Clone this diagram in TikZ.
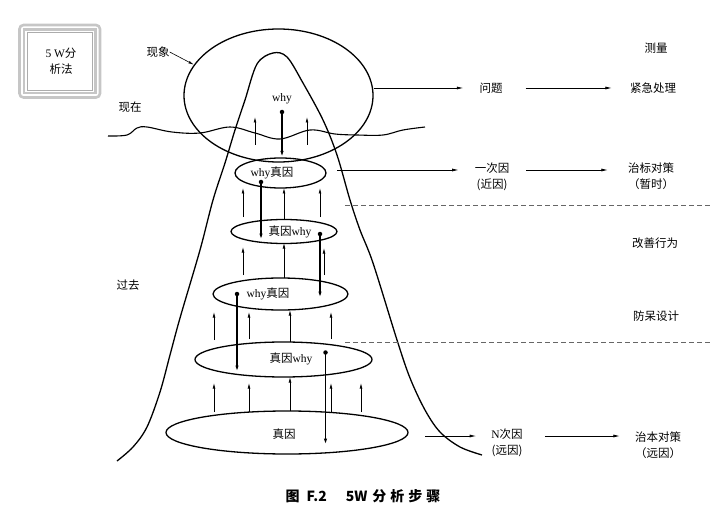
\documentclass[tikz,border=0pt]{standalone}
\usepackage{fontspec}
\setmainfont{Liberation Serif}
\newfontfamily\cjk{Noto Sans CJK SC}
\usetikzlibrary{shapes.geometric, arrows.meta, positioning, calc}

\newcommand{\yw}{{\rmfamily why}}

\begin{document}
\begin{tikzpicture}[
    x=1pt, y=-1pt,
    ring/.style={draw, ellipse, line width=1.3pt, inner sep=0pt},
    lbl/.style={font=\fontsize{11.5}{16.5}\selectfont\cjk, inner sep=0pt, align=center},
    arrow/.style={-{Latex[length=6.5pt,width=3pt]}, line width=0.7pt},
    uparr/.style={-{Latex[length=5.5pt,width=2.8pt]}, line width=0.7pt},
    down/.style={-{Latex[length=6.5pt,width=3.4pt]}, line width=1.3pt},
    dot/.style={circle, fill, inner sep=0pt, minimum size=4.5pt},
    cut/.style={dash pattern=on 5pt off 3pt, line width=0.6pt, gray!80!black}
]
    \useasboundingbox (0,0) rectangle (726,516);

    % title box
    \draw[gray!45, line width=2.6pt, rounded corners=4pt] (19.5,25) rectangle (100,97.5);
    \draw[gray!45, line width=2.2pt] (24,29.5) rectangle (95.5,93);
    \draw[gray!65, line width=1pt] (27.8,32.5) rectangle (92,90.5);
    \node[lbl] (box) at (61,61) {{\rmfamily 5 W}分\\析法};

    % the hill and the surface
    \draw[line width=1.3pt] plot[smooth, tension=0.55] coordinates {
        (117,461) (133,447) (147,427) (160,392) (170,355) (180,318) (200,250)
        (213,200) (225,163) (235,130) (245,100) (257,64) (273,53) (287,57)
        (303,83) (323,120) (337,155) (350,200) (360,230) (373,263) (397,340)
        (410,378) (425,410) (440,432) (460,447) (482,455)};
    \draw[line width=1.1pt] plot[smooth, tension=0.6] coordinates {
        (108,136) (127,135) (137,128) (147,127) (172,132) (200,133) (230,127)
        (255,133) (280,139) (310,130) (335,134) (357,135) (383,135) (403,130) (425,127)};

    % levels
    \node[ring, minimum width=189pt, minimum height=133pt] (e0) at (278.5,95.5) {};
    \node[ring, minimum width=91pt, minimum height=30pt] (e1) at (280.5,173) {};
    \node[ring, minimum width=106pt, minimum height=24pt] (e2) at (284,231.5) {};
    \node[ring, minimum width=135pt, minimum height=32pt] (e3) at (280.5,294) {};
    \node[ring, minimum width=177pt, minimum height=35pt] (e4) at (283.5,359.5) {};
    \node[ring, minimum width=242pt, minimum height=43pt] (e5) at (287,432.5) {};

    \node[lbl] (t0) at (282,99) {\yw};
    \node[lbl] (t1) at (272,173) {\yw 真因};
    \node[lbl] (t2) at (290,232) {真因\yw};
    \node[lbl] (t3) at (268,294) {\yw 真因};
    \node[lbl] (t4) at (291,359) {真因\yw};
    \node[lbl] (t5) at (284,434) {真因};

    % asking why, level by level
    \node[dot] (d0) at (282,112) {};
    \node[dot] (d1) at (261,182) {};
    \node[dot] (d2) at (320,234) {};
    \node[dot] (d3) at (237,294) {};
    \node[dot] (d4) at (325.5,352.5) {};
    \coordinate (f1) at (261,240);
    \coordinate (f2) at (320,298);
    \coordinate (f3) at (237,372);
    \coordinate (f4) at (325.5,445);
    \draw[down] (d0.center) -- (d0 |- e1.north);
    \draw[down] (d1.center) -- (f1);
    \draw[down] (d2.center) -- (f2);
    \draw[down] (d3.center) -- (f3);
    \draw[down] (d4.center) -- (f4);

    \foreach \x/\a/\b in {255/145/117, 307/145/117,
                          243/217/188, 284/220/188, 320/217/188,
                          243/275/247, 284/278/243, 324/275/248,
                          214/340/312, 249/339/312, 290/342/310, 331/339/312,
                          214/412/383, 249/412/383, 290/411/377, 331/412/383, 361/412/383}
        \draw[uparr] (\x,\a) -- (\x,\b);

    % left labels
    \node[lbl] (xx) at (158,52) {现象};
    \node[lbl] (xz) at (130,107) {现在};
    \node[lbl] (gq) at (128,285) {过去};
    \draw[-{Latex[length=5.5pt,width=2.6pt]}, line width=0.6pt] (xx.east) -- (e0.160);

    % right side
    \node[lbl] (cl) at (656,48) {测量};
    \node[lbl] (wt) at (491,88) {问题};
    \node[lbl] (jj) at (653,88) {紧急处理};
    \draw[arrow] (e0.east |- wt) -- ($(wt.west)+(-16,0)$);
    \draw[arrow] ($(wt.east)+(23,0)$) -- ($(jj.west)+(-18,0)$);

    \node[lbl] (yc) at (492,177) {一次因\\(近因)};
    \node[lbl] (zb) at (651,176) {治标对策\\（暂时）};
    \coordinate (s1) at (337,170);
    \draw[arrow] (s1) -- ($(yc.west |- s1)+(-16,0)$);
    \draw[arrow] ($(yc.east |- s1)+(17,0)$) -- ($(zb.west |- s1)+(-20,0)$);

    \draw[cut] (345,205) -- (710,205);
    \node[lbl] (gs) at (655,243) {改善行为};
    \node[lbl] (fd) at (656,316) {防呆设计};
    \draw[cut] (345,342) -- (710,342);

    \node[lbl] (nc) at (507,443) {{\rmfamily N}次因\\(远因)};
    \node[lbl] (zbb) at (658,445) {治本对策\\（远因）};
    \coordinate (s2) at (425,436);
    \draw[arrow] (s2) -- ($(nc.west |- s2)+(-15,0)$);
    \draw[arrow] ($(nc.east |- s2)+(22,0)$) -- ($(zbb.west |- s2)+(-15,0)$);

    % caption
    \node[font=\fontsize{14}{16}\selectfont\cjk\bfseries, inner sep=0pt] (cap) at (363,496)
        {图\hspace{7pt}F.2\hspace{19pt}5W\hspace{5pt}分\hspace{4pt}析\hspace{4pt}步\hspace{4pt}骤};
\end{tikzpicture}
\end{document}
